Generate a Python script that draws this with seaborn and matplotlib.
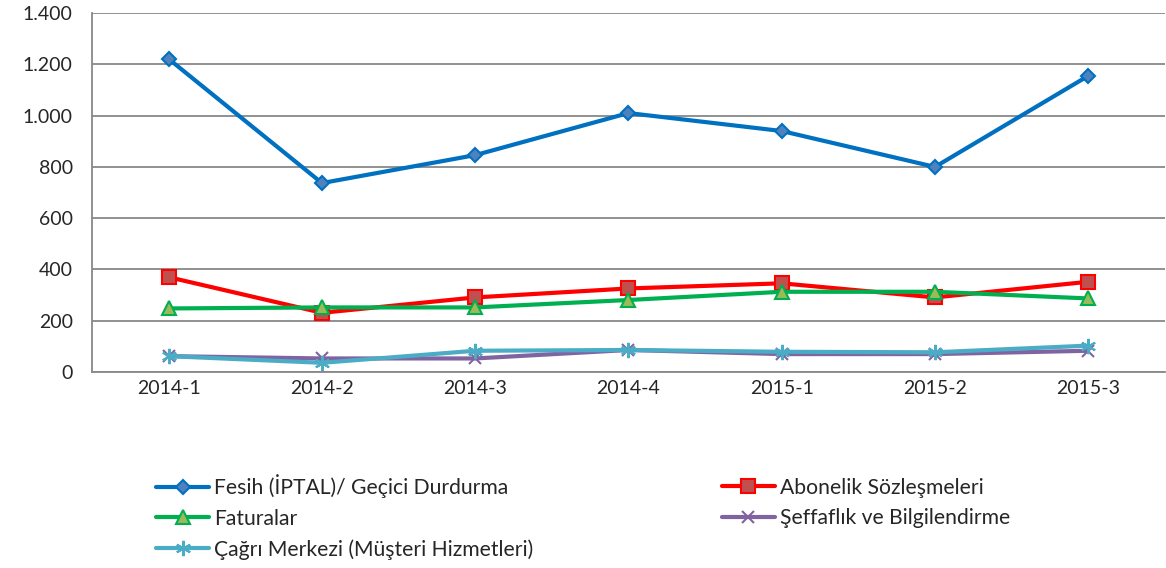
import matplotlib
matplotlib.use("Agg")
import matplotlib.pyplot as plt
import matplotlib.ticker as mticker
import seaborn as sns
import pandas as pd

# ---------------------------------------------------------
# DATA
# ---------------------------------------------------------
periods = ["2014-1", "2014-2", "2014-3", "2014-4", "2015-1", "2015-2", "2015-3"]

fesih = [1221, 737, 846, 1010, 940, 800, 1155]
abonelik = [370, 231, 291, 326, 346, 291, 352]
faturalar = [248, 252, 252, 281, 313, 313, 287]
seffaflik = [62, 53, 53, 86, 70, 70, 83]
cagri = [62, 36, 83, 86, 79, 77, 103]

series_names = [
    "Fesih (İPTAL)/ Geçici Durdurma",
    "Abonelik Sözleşmeleri",
    "Faturalar",
    "Şeffaflık ve Bilgilendirme",
    "Çağrı Merkezi (Müşteri Hizmetleri)",
]
series_values = [fesih, abonelik, faturalar, seffaflik, cagri]

y_ticks = [0, 200, 400, 600, 800, 1000, 1200, 1400]

# line colour, marker, marker face, marker edge, marker size
styles = {
    "Fesih (İPTAL)/ Geçici Durdurma": ("#0070C0", "D", "#4F81BD", "#0070C0", 7.5),
    "Abonelik Sözleşmeleri": ("#FF0000", "s", "#C0504D", "#FF0000", 9.5),
    "Faturalar": ("#00B050", "^", "#9BBB59", "#00B050", 10),
    "Şeffaflık ve Bilgilendirme": ("#8064A2", "x", "#8064A2", "#8064A2", 9),
    "Çağrı Merkezi (Müşteri Hizmetleri)": ("#4BACC6", (6, 2, 0), "#4BACC6", "#4BACC6", 11),
}

df = pd.DataFrame({
    "period": periods * len(series_names),
    "value": [v for vals in series_values for v in vals],
    "series": [n for n in series_names for _ in periods],
})

# ---------------------------------------------------------
# PLOT
# ---------------------------------------------------------
sns.set_theme(style="white")
plt.rcParams["font.family"] = ["Lato", "DejaVu Sans"]

fig = plt.figure(figsize=(11.66, 5.68), dpi=100)
ax = fig.add_axes([0.079, 0.345, 0.92, 0.632])

handles = {}
for name in series_names:
    color, marker, face, edge, size = styles[name]
    sub = df[df["series"] == name]
    sns.lineplot(data=sub, x="period", y="value", ax=ax, color=color,
                 linewidth=3, marker=marker, markersize=size,
                 markerfacecolor=face, markeredgecolor=edge,
                 markeredgewidth=1.5, label=name, legend=False)
    handles[name] = ax.lines[-1]

ax.set_xlim(-0.5, len(periods) - 0.5)
ax.set_ylim(0, 1400)
ax.set_yticks(y_ticks)
ax.yaxis.set_major_formatter(mticker.FuncFormatter(lambda v, p: f"{int(v):,}".replace(",", ".")))
ax.grid(axis="y", color="#888888", linewidth=1.3)
ax.set_axisbelow(True)

# category tick marks sit between the labels
ax.set_xticks(range(len(periods)))
ax.set_xticklabels(periods)
ax.set_xticks([i - 0.5 for i in range(len(periods) + 1)], minor=True)
ax.tick_params(axis="x", which="major", length=0, pad=6, labelsize=14)
ax.tick_params(axis="x", which="minor", length=7, color="#888888", width=1.3)
ax.tick_params(axis="y", length=7, color="#888888", width=1.3, labelsize=14, pad=7)
ax.set_xlabel("")
ax.set_ylabel("")

for side in ["top", "right"]:
    ax.spines[side].set_visible(False)
for side in ["left", "bottom"]:
    ax.spines[side].set_color("#888888")
    ax.spines[side].set_linewidth(1.3)

legend_kw = dict(frameon=False, loc="upper left", borderpad=0, borderaxespad=0,
                 handlelength=2.5, handletextpad=0.25, labelspacing=0.5,
                 fontsize=15.2)
col1 = [series_names[0], series_names[2], series_names[4]]
col2 = [series_names[1], series_names[3]]
fig.legend([handles[n] for n in col1], col1, bbox_to_anchor=(0.134, 0.165), **legend_kw)
fig.legend([handles[n] for n in col2], col2, bbox_to_anchor=(0.619, 0.159), **legend_kw)

fig.savefig("out.png", dpi=100)
